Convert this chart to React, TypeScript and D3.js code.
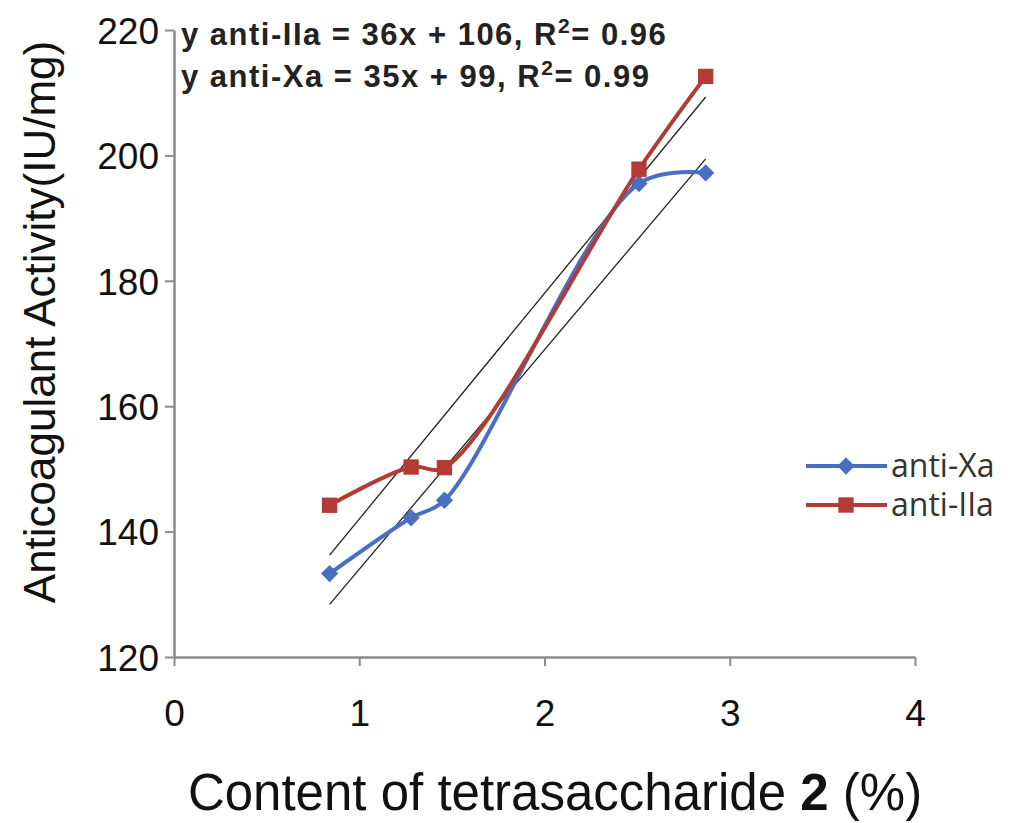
import React, { useRef, useEffect } from 'react';
import * as d3 from 'd3';

const contentX = [0.84, 1.28, 1.46, 2.51, 2.87];
const antiXa = [133.3, 142.2, 145.0, 195.5, 197.2];
const antiIIa = [144.2, 150.3, 150.2, 197.8, 212.6];
const xTicks = [0, 1, 2, 3, 4];
const yTicks = [120, 140, 160, 180, 200, 220];
const fits = [
  { name: 'anti-IIa', slope: 36, intercept: 106, r2: '0.96' },
  { name: 'anti-Xa', slope: 35, intercept: 99, r2: '0.99' },
];

const W = 1016;
const H = 823;
const font = 'Liberation Sans, Arial, sans-serif';

const App: React.FC = () => {
  const ref = useRef<SVGSVGElement | null>(null);

  useEffect(() => {
    const svg = d3.select(ref.current);
    svg.selectAll('*').remove();

    const x = d3.scaleLinear().domain([0, 4]).range([174, 915]);
    const y = d3.scaleLinear().domain([120, 220]).range([657, 30]);

    svg.append('rect').attr('width', W).attr('height', H).attr('fill', '#fff');

    // axes
    const xAxis = svg.append('g')
      .attr('transform', `translate(0,${y(120)})`)
      .call(d3.axisBottom(x).tickValues(xTicks).tickFormat(d3.format('d')).tickSize(9).tickPadding(34).tickSizeOuter(0));
    const yAxis = svg.append('g')
      .attr('transform', `translate(${x(0)},0)`)
      .call(d3.axisLeft(y).tickValues(yTicks).tickSize(9).tickPadding(6).tickSizeOuter(0));
    [xAxis, yAxis].forEach(a => {
      a.select('.domain').attr('stroke', '#8a8a8a').attr('stroke-width', 2.5);
      a.selectAll('.tick line').attr('stroke', '#8a8a8a').attr('stroke-width', 2);
      a.selectAll('.tick text')
        .attr('fill', '#111')
        .style('font-family', font);
    });
    xAxis.selectAll('.tick text').style('font-size', '37px');
    yAxis.selectAll('.tick text').style('font-size', '37px').attr('dy', '0.36em');

    // trend lines
    const [x0, x1] = d3.extent(contentX) as [number, number];
    fits.forEach(f => {
      svg.append('line')
        .attr('x1', x(x0)).attr('y1', y(f.slope * x0 + f.intercept))
        .attr('x2', x(x1)).attr('y2', y(f.slope * x1 + f.intercept))
        .attr('stroke', '#222').attr('stroke-width', 1.3);
    });

    const line = d3.line<number>()
      .x((_, i) => x(contentX[i]))
      .y(d => y(d))
      .curve(d3.curveCatmullRom.alpha(0.5));

    const series = [
      { name: 'anti-Xa', values: antiXa, color: '#4a6fc2', marker: 'diamond' },
      { name: 'anti-IIa', values: antiIIa, color: '#b23b35', marker: 'square' },
    ];

    series.forEach(s => {
      svg.append('path')
        .attr('d', line(s.values)!)
        .attr('fill', 'none')
        .attr('stroke', s.color)
        .attr('stroke-width', 4);
    });

    const sym = (m: string) =>
      d3.symbol().type(m === 'diamond' ? d3.symbolDiamond2 : d3.symbolSquare2).size(m === 'diamond' ? 190 : 300)();

    series.forEach(s => {
      s.values.forEach((v, i) => {
        svg.append('path')
          .attr('d', sym(s.marker)!)
          .attr('transform', `translate(${x(contentX[i])},${y(v)})`)
          .attr('fill', s.color);
      });
    });

    // equations
    const eq = svg.append('g')
      .style('font-family', font)
      .style('font-size', '31px')
      .style('font-weight', 'bold')
      .style('letter-spacing', '1.5px')
      .attr('fill', '#222');
    fits.forEach((f, i) => {
      const t = eq.append('text').attr('x', 181).attr('y', 45 + i * 42);
      t.append('tspan').text(`y ${f.name} = ${f.slope}x + ${f.intercept}, R`);
      t.append('tspan').attr('font-size', '21px').attr('dy', -12).text('2');
      t.append('tspan').attr('dy', 12).text(`= ${f.r2}`);
    });

    // legend
    series.forEach((s, i) => {
      const ly = 466 + i * 39;
      svg.append('line')
        .attr('x1', 806).attr('x2', 887).attr('y1', ly).attr('y2', ly)
        .attr('stroke', s.color).attr('stroke-width', 4);
      svg.append('path')
        .attr('d', sym(s.marker)!)
        .attr('transform', `translate(846,${ly})`)
        .attr('fill', s.color);
      svg.append('text')
        .attr('x', 891).attr('y', ly).attr('dy', '0.35em')
        .style('font-family', 'Open Sans, sans-serif')
        .style('font-size', '32px')
        .attr('fill', '#333')
        .text(s.name);
    });

    // axis titles
    const xt = svg.append('text')
      .attr('x', 555).attr('y', 810)
      .attr('text-anchor', 'middle')
      .style('font-family', font)
      .style('font-size', '51px')
      .attr('fill', '#111');
    xt.append('tspan').text('Content of tetrasaccharide ');
    xt.append('tspan').attr('font-weight', 'bold').text('2');
    xt.append('tspan').text(' (%)');

    svg.append('text')
      .attr('transform', `translate(55,${322}) rotate(-90)`)
      .attr('text-anchor', 'middle')
      .style('font-family', font)
      .style('font-size', '44px')
      .attr('fill', '#111')
      .text('Anticoagulant Activity(IU/mg)');
  }, []);

  return (
    <svg ref={ref} width={W} height={H} style={{ position: 'absolute', left: 0, top: 0 }} />
  );
};

export default App;
